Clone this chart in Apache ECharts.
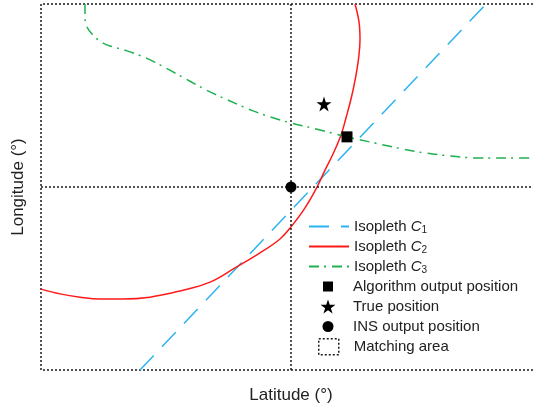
<!DOCTYPE html>
<html>
<head>
<meta charset="utf-8">
<script src="https://cdn.jsdelivr.net/npm/echarts@6/dist/echarts.min.js"></script>
<style>html,body{margin:0;padding:0;background:#fff;}#c{width:533px;height:407px;}</style>
</head>
<body>
<div id="c"></div>
<script>
// ---- data (arbitrary plot units: x 0..100 latitude, y 0..100 longitude) ----
const axisNames = ['Latitude (°)', 'Longitude (°)'];
const seriesNames = ['Isopleth C1', 'Isopleth C2', 'Isopleth C3', 'Algorithm output position', 'True position', 'INS output position', 'Matching area'];
const isoplethC1 = [[19.8, 0], [89, 100]];
const isoplethC2 = [[0, 22.1], [3.8, 20.8], [7.8, 19.9], [11.8, 19.4], [16.2, 19.4], [21.8, 19.9], [27.8, 21.6], [33.8, 24.0], [38.8, 27.9], [43.8, 32.0], [47.8, 35.8], [50, 39.1], [52.8, 44.3], [55.2, 50], [56.8, 54.6], [58.4, 59.0], [60.0, 64.2], [61.1, 69.4], [62.1, 74.6], [62.9, 79.8], [63.5, 85.0], [63.8, 90.2], [63.6, 95.1], [62.8, 100]];
const isoplethC3 = [[8.8, 100], [8.8, 96.7], [9.2, 93.7], [10.4, 91.5], [12.4, 89.3], [14.4, 88.3], [17.2, 87.2], [21.4, 85.0], [25.4, 82.2], [29.8, 78.9], [33.8, 76.0], [37.8, 73.5], [42.4, 70.8], [46.4, 68.9], [50, 67.5], [55.8, 65.6], [61.2, 63.7], [66.8, 62.0], [72.2, 60.4], [76.8, 59.3], [81.8, 58.5], [87.8, 57.9], [93.8, 57.9], [100, 57.9]];
const algorithmPos = [[61.2, 63.7]];
const truePos = [[56.6, 72.7]];
const insPos = [[50, 50]];
const matchingArea = [[0, 0], [0, 100], [100, 100], [100, 0], [0, 0]];
const crossLat = 50;
const crossLon = 50;

const FONT = '"Liberation Sans", Arial, sans-serif';
const STAR = 'path://M10,0L12.25,6.91L19.51,6.91L13.63,11.18L15.88,18.09L10,13.82L4.12,18.09L6.37,11.18L0.49,6.91L7.76,6.91Z';
const SQUARE = 'path://M0,0H10V10H0Z';
const DOT = [2, 2];
const INK = '#1a1a1a';

const chart = echarts.init(document.getElementById('c'), null, {renderer: 'canvas'});
const legendText = {fontFamily: FONT, fontSize: 15, color: '#222', lineHeight: 14,
  rich: {
    n: {fontFamily: FONT, fontSize: 15, color: '#222', lineHeight: 14},
    i: {fontFamily: FONT, fontSize: 15, color: '#222', fontStyle: 'italic', lineHeight: 14},
    s: {fontFamily: FONT, fontSize: 10, color: '#222', lineHeight: 14, padding: [7, 0, 0, 0]}
  }};
const plainText = {fontFamily: FONT, fontSize: 15, color: '#222', lineHeight: 14};
chart.setOption({
  animation: false,
  grid: {left: 41, top: 4, width: 500, height: 366, containLabel: false, outerBoundsMode: 'none'},
  xAxis: {type: 'value', min: 0, max: 100, name: axisNames[0], nameLocation: 'middle', nameGap: 17,
    nameTextStyle: {fontFamily: FONT, fontSize: 17, color: '#222'},
    axisLine: {show: false}, axisTick: {show: false}, axisLabel: {show: false}, splitLine: {show: false}},
  yAxis: {type: 'value', min: 0, max: 100, name: axisNames[1], nameLocation: 'middle', nameGap: 14,
    nameTextStyle: {fontFamily: FONT, fontSize: 17, color: '#222'},
    axisLine: {show: false}, axisTick: {show: false}, axisLabel: {show: false}, splitLine: {show: false}},
  legend: [
    {orient: 'vertical', left: 308, top: 218, padding: 0, itemWidth: 40, itemHeight: 14, itemGap: 3,
      selectedMode: false, data: seriesNames.slice(0, 3), textStyle: legendText,
      itemStyle: {opacity: 0},
      formatter: function (name) { return '{n|Isopleth }{i|C}{s|' + name.slice(-1) + '}'; }},
    {orient: 'vertical', left: 308, top: 279, padding: 0, itemWidth: 40, itemHeight: 14, itemGap: 5,
      selectedMode: false, textStyle: plainText, itemStyle: {opacity: 1},
      data: [{name: seriesNames[3], icon: 'path://M15,2H25V12H15Z M0,0 M40,14'},
             {name: seriesNames[4], icon: 'path://M0,0 M40,14 M20,0L21.8,5.4L27.5,5.4L22.9,8.8L24.6,14.1L20,10.8L15.4,14.1L17.1,8.8L12.5,5.4L18.2,5.4Z'},
             {name: seriesNames[5], icon: 'path://M0,0 M40,14 M25.5,7A5.5,5.5,0,1,1,14.5,7A5.5,5.5,0,1,1,25.5,7Z'}]},
    {orient: 'vertical', left: 308, top: 338, padding: 0, itemWidth: 40, itemHeight: 16, itemGap: 0,
      selectedMode: false, textStyle: plainText,
      data: [{name: seriesNames[6], icon: 'path://M10,0H30V16H10Z M0,0 M40,0',
        itemStyle: {color: 'transparent', borderColor: INK, borderWidth: 1.5, borderType: DOT}}]}
  ],
  series: [
    {name: seriesNames[6], type: 'line', data: matchingArea, symbol: 'none', clip: false, z: 1, silent: true,
      lineStyle: {color: INK, width: 1.5, type: DOT}, itemStyle: {color: INK},
      markLine: {silent: true, symbol: 'none', label: {show: false}, animation: false,
        lineStyle: {color: INK, width: 1.5, type: DOT},
        data: [{xAxis: crossLat}, {yAxis: crossLon}]}},
    {name: seriesNames[0], type: 'line', data: isoplethC1, symbol: 'none', z: 3,
      lineStyle: {color: '#2bb4ef', width: 1.5, type: [20, 12]}, itemStyle: {color: '#2bb4ef'}},
    {name: seriesNames[1], type: 'line', data: isoplethC2, symbol: 'none', smooth: 0.4, z: 3,
      lineStyle: {color: '#ff1a1a', width: 1.5, type: 'solid'}, itemStyle: {color: '#ff1a1a'}},
    {name: seriesNames[2], type: 'line', data: isoplethC3, symbol: 'none', smooth: 0.4, z: 3,
      lineStyle: {color: '#1fb14f', width: 1.5, type: [10, 5, 2, 6]}, itemStyle: {color: '#1fb14f'}},
    {name: seriesNames[3], type: 'scatter', data: algorithmPos, symbol: SQUARE, symbolSize: 11, z: 5,
      itemStyle: {color: '#000', opacity: 1}},
    {name: seriesNames[4], type: 'scatter', data: truePos, symbol: STAR, symbolSize: 15, z: 5,
      itemStyle: {color: '#000', opacity: 1}},
    {name: seriesNames[5], type: 'scatter', data: insPos, symbol: 'circle', symbolSize: 11, z: 5,
      itemStyle: {color: '#000', opacity: 1}}
  ]
});
</script>
</body>
</html>
